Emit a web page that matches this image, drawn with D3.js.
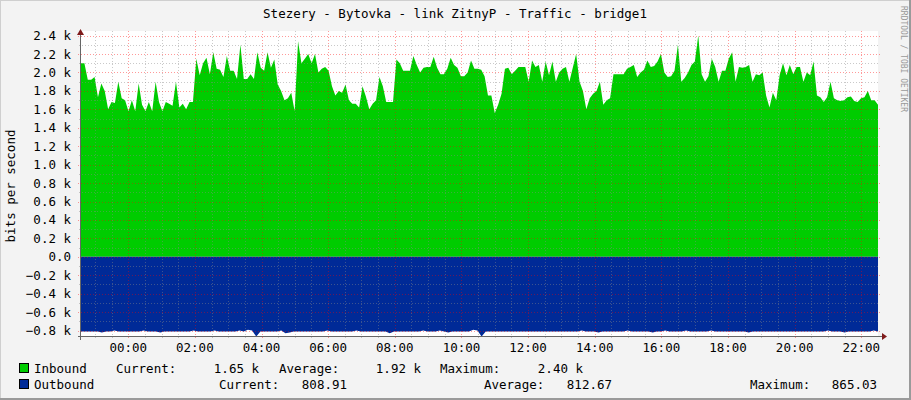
<!DOCTYPE html>
<html><head><meta charset="utf-8">
<script src="https://cdn.jsdelivr.net/npm/d3@7"></script>
<style>body{margin:0;background:#f3f3f3}svg{display:block}</style>
</head><body><svg id="c" width="911" height="400"></svg>
<script>
const title = "Stezery - Bytovka - link ZitnyP - Traffic - bridge1";
const yTicks = [-0.8,-0.6,-0.4,-0.2,0,0.2,0.4,0.6,0.8,1.0,1.2,1.4,1.6,1.8,2.0,2.2,2.4];
const xTickHours = [0,2,4,6,8,10,12,14,16,18,20,22];
// inbound (k bits/s), evenly spaced in time
const inbound = [2.1,2.1,1.92,1.92,1.95,1.73,1.88,1.8,1.6,1.68,1.67,1.9,1.72,1.7,1.58,1.7,1.58,1.88,1.65,1.58,1.68,1.58,1.9,1.68,1.58,1.68,1.66,1.64,1.9,1.62,1.66,1.6,1.68,1.68,
2.15,1.97,2.1,2.16,1.98,2.22,2.04,2.03,1.95,2.18,2.02,2.02,1.93,2.3,1.93,1.93,1.98,1.93,2.22,2.05,2.02,2.22,2.05,2.14,1.87,1.8,1.7,1.72,1.78,1.58,2.34,2.1,2.15,2.2,2.1,2.2,2.0,2.04,2.06,2.02,1.85,1.75,1.8,1.78,1.87,1.7,1.66,1.66,1.62,1.85,1.74,1.6,1.66,1.7,1.95,1.85,1.68,1.68,1.68,2.14,2.1,2.02,2.02,2.02,2.18,2.08,2.0,2.05,2.06,2.06,2.17,2.05,1.98,1.98,2.04,2.16,2.08,
2.05,1.96,1.96,2.0,2.13,2.04,2.04,2.03,1.96,1.75,1.75,1.56,1.65,1.77,2.04,2.05,1.98,2.02,2.06,2.06,2.06,1.9,2.13,2.06,2.08,1.9,2.12,1.97,2.12,1.9,2.0,2.04,2.06,1.9,2.05,2.2,1.9,1.8,1.6,1.72,1.77,1.8,1.9,1.65,1.7,1.72,1.98,1.98,1.98,1.98,2.04,2.06,2.08,1.95,2.0,2.03,2.13,2.06,2.07,2.12,2.2,2.0,1.95,1.96,2.02,2.3,1.9,1.94,2.0,2.08,2.12,2.4,1.98,1.9,1.96,2.15,2.06,1.9,2.02,2.02,2.15,2.22,1.9,2.06,2.05,2.06,2.08,1.9,1.98,1.97,2.0,1.75,1.62,1.78,1.7,1.97,2.1,1.97,2.08,1.98,2.06,2.06,1.9,2.0,1.97,2.12,1.75,1.73,1.68,1.73,1.9,1.72,1.7,1.69,1.7,1.73,1.74,1.69,1.68,1.72,1.73,1.8,1.7,1.7,1.65];
// outbound (k bits/s, shown negative)
const outbound = [0.81,0.81,0.81,0.81,0.81,0.82,0.81,0.81,0.8,0.81,0.81,0.81,0.81,0.81,0.81,0.8,0.81,0.81,0.81,0.82,0.81,0.81,0.81,0.81,0.81,0.81,0.81,0.8,0.81,0.81,0.81,0.81,0.8,0.81,0.81,0.81,0.81,0.81,0.8,0.81,0.79,0.8,0.865,0.81,0.81,0.81,0.81,0.81,0.8,0.83,0.82,0.81,0.81,0.81,0.81,0.81,0.81,0.81,0.81,0.8,0.81,0.81,0.81,0.81,0.81,0.81,0.8,0.81,0.81,0.81,0.81,0.81,0.81,0.81,0.83,0.81,0.81,0.81,0.81,0.81,0.81,0.81,0.8,0.81,0.81,0.81,0.8,0.81,0.82,0.81,0.81,0.81,0.81,0.81,0.79,0.8,0.865,0.81,0.81,0.81,0.81,0.81,0.81,0.81,0.81,0.81,0.81,0.81,0.81,0.81,0.81,0.81,0.81,0.81,0.81,0.81,0.81,0.81,0.81,0.81,0.8,0.81,0.81,0.81,0.82,0.81,0.81,0.81,0.81,0.81,0.81,0.8,0.81,0.81,0.81,0.81,0.81,0.82,0.81,0.81,0.8,0.81,0.81,0.81,0.81,0.8,0.81,0.81,0.81,0.81,0.81,0.8,0.81,0.81,0.81,0.81,0.81,0.81,0.81,0.81,0.82,0.81,0.81,0.81,0.81,0.81,0.81,0.81,0.81,0.81,0.81,0.81,0.81,0.81,0.81,0.81,0.81,0.81,0.81,0.8,0.81,0.81,0.81,0.82,0.81,0.81,0.81,0.81,0.81,0.81,0.8,0.81];
const legendIn = {cur:"1.65 k", avg:"1.92 k", max:"2.40 k"};
const legendOut = {cur:"808.91", avg:"812.67", max:"865.03"};

const svg = d3.select("#c");
const F = "DejaVu Sans Mono, monospace";
const L=81, R=878, T=31, B=337;
const t0 = new Date(2000,0,0,22,35), t1 = new Date(2000,0,1,22,30);
const x = d3.scaleTime().domain([t0,t1]).range([L,R]);
const y = d3.scaleLinear().domain([-0.87,2.45]).range([B,T]);
const span = t1 - t0;

// frame
svg.append("rect").attr("x",0.5).attr("y",0.5).attr("width",910).attr("height",399).attr("fill","#f3f3f3").attr("stroke","#cfcfcf");
svg.append("line").attr("x1",910).attr("x2",910).attr("y1",0).attr("y2",400).attr("stroke","#9a9a9a").attr("stroke-width",2);
svg.append("line").attr("x1",0).attr("x2",911).attr("y1",399).attr("y2",399).attr("stroke","#9a9a9a").attr("stroke-width",2);
svg.append("rect").attr("x",L).attr("y",T).attr("width",R-L).attr("height",B-T).attr("fill","#fff");

const tin = i => new Date(+t0 + span*i/(inbound.length-1));
const tout = i => new Date(+t0 + span*i/(outbound.length-1));
svg.append("path").datum(inbound).attr("fill","#00cc00")
  .attr("d", d3.area().x((d,i)=>x(tin(i))).y0(y(0)).y1(d=>y(d)));
svg.append("path").datum(outbound).attr("fill","#002a97")
  .attr("d", d3.area().x((d,i)=>x(tout(i))).y0(y(0)).y1(d=>y(-d)));

// grid
const g = svg.append("g").attr("shape-rendering","crispEdges");
const minorY = d3.range(-8,25).map(v=>v/10);
minorY.forEach(v=>{ if(Math.abs(Math.round(v*10))%2===1)
  g.append("line").attr("x1",L-2).attr("x2",R+2).attr("y1",Math.round(y(v))+.5).attr("y2",Math.round(y(v))+.5)
   .attr("stroke","#888").attr("stroke-opacity",0.45).attr("stroke-dasharray","1,2");});
const minorX = d3.timeMinute.every(30).range(t0,t1);
minorX.forEach(t=>{ if(t.getMinutes()!==0 || t.getHours()%2!==0)
  g.append("line").attr("y1",T).attr("y2",B+2).attr("x1",Math.round(x(t))+.5).attr("x2",Math.round(x(t))+.5)
   .attr("stroke","#888").attr("stroke-opacity",0.45).attr("stroke-dasharray","1,2");});
yTicks.forEach(v=>{
  g.append("line").attr("x1",L-3).attr("x2",R+3).attr("y1",Math.round(y(v))+.5).attr("y2",Math.round(y(v))+.5)
   .attr("stroke","#ff0000").attr("stroke-opacity",0.4).attr("stroke-dasharray","1,2");
  svg.append("text").attr("x",71).attr("y",y(v)+4.5).attr("text-anchor","end").attr("font-family",F).attr("font-size",12.5)
   .attr("fill","#000").text(v===0?"0.0":d3.format(".1f")(v)+" k");
});
const xt = xTickHours.map(h=>new Date(2000,0,1,h));
xt.forEach(t=>{
  g.append("line").attr("y1",T).attr("y2",B+3).attr("x1",Math.round(x(t))+.5).attr("x2",Math.round(x(t))+.5)
   .attr("stroke","#ff0000").attr("stroke-opacity",0.4).attr("stroke-dasharray","1,2");
  svg.append("text").attr("x",x(t)).attr("y",352).attr("text-anchor","middle").attr("font-family",F).attr("font-size",12.5)
   .text(d3.timeFormat("%H:%M")(t));
});
// axes
g.append("line").attr("x1",L-3).attr("x2",R+4).attr("y1",B-.5).attr("y2",B-.5).attr("stroke","#666");
g.append("line").attr("x1",L-.5).attr("x2",L-.5).attr("y1",T).attr("y2",B+3).attr("stroke","#666");
svg.append("path").attr("d",`M${R+4},${B-4}L${R+9},${B-.5}L${R+4},${B+3}Z`).attr("fill","#7f1b1b");
svg.append("path").attr("d",`M${L-4},${T+4}L${L-.5},${T-2}L${L+3},${T+4}Z`).attr("fill","#7f1b1b");

// title & labels
svg.append("text").attr("x",455).attr("y",18).attr("text-anchor","middle").attr("font-family",F).attr("font-size",12.5).text(title);
svg.append("text").attr("transform","translate(15,186) rotate(-90)").attr("text-anchor","middle").attr("font-family",F).attr("font-size",12.5).text("bits per second");
svg.append("text").attr("transform","translate(901,6) rotate(90)").attr("font-family",F).attr("font-size",8).attr("fill","#999").text("RRDTOOL / TOBI OETIKER");

// legend
function row(yy,color,name,vals,pos){
  svg.append("rect").attr("x",19.5).attr("y",yy-9.5).attr("width",9).attr("height",9).attr("fill",color).attr("stroke","#000");
  const t=(xx,s,a)=>svg.append("text").attr("x",xx).attr("y",yy).attr("text-anchor",a||"start").attr("font-family",F).attr("font-size",12.5).attr("xml:space","preserve").text(s);
  t(34,name);
  t(pos[0],"Current:"); t(pos[1],vals.cur,"end");
  t(pos[2],"Average:"); t(pos[3],vals.avg,"end");
  t(pos[4],"Maximum:"); t(pos[5],vals.max,"end");
}
row(373,"#00cc00","Inbound",legendIn,[116,259,279,421,440,583]);
row(389,"#002a97","Outbound",legendOut,[219,347,484,612,750,877]);
</script></body></html>
